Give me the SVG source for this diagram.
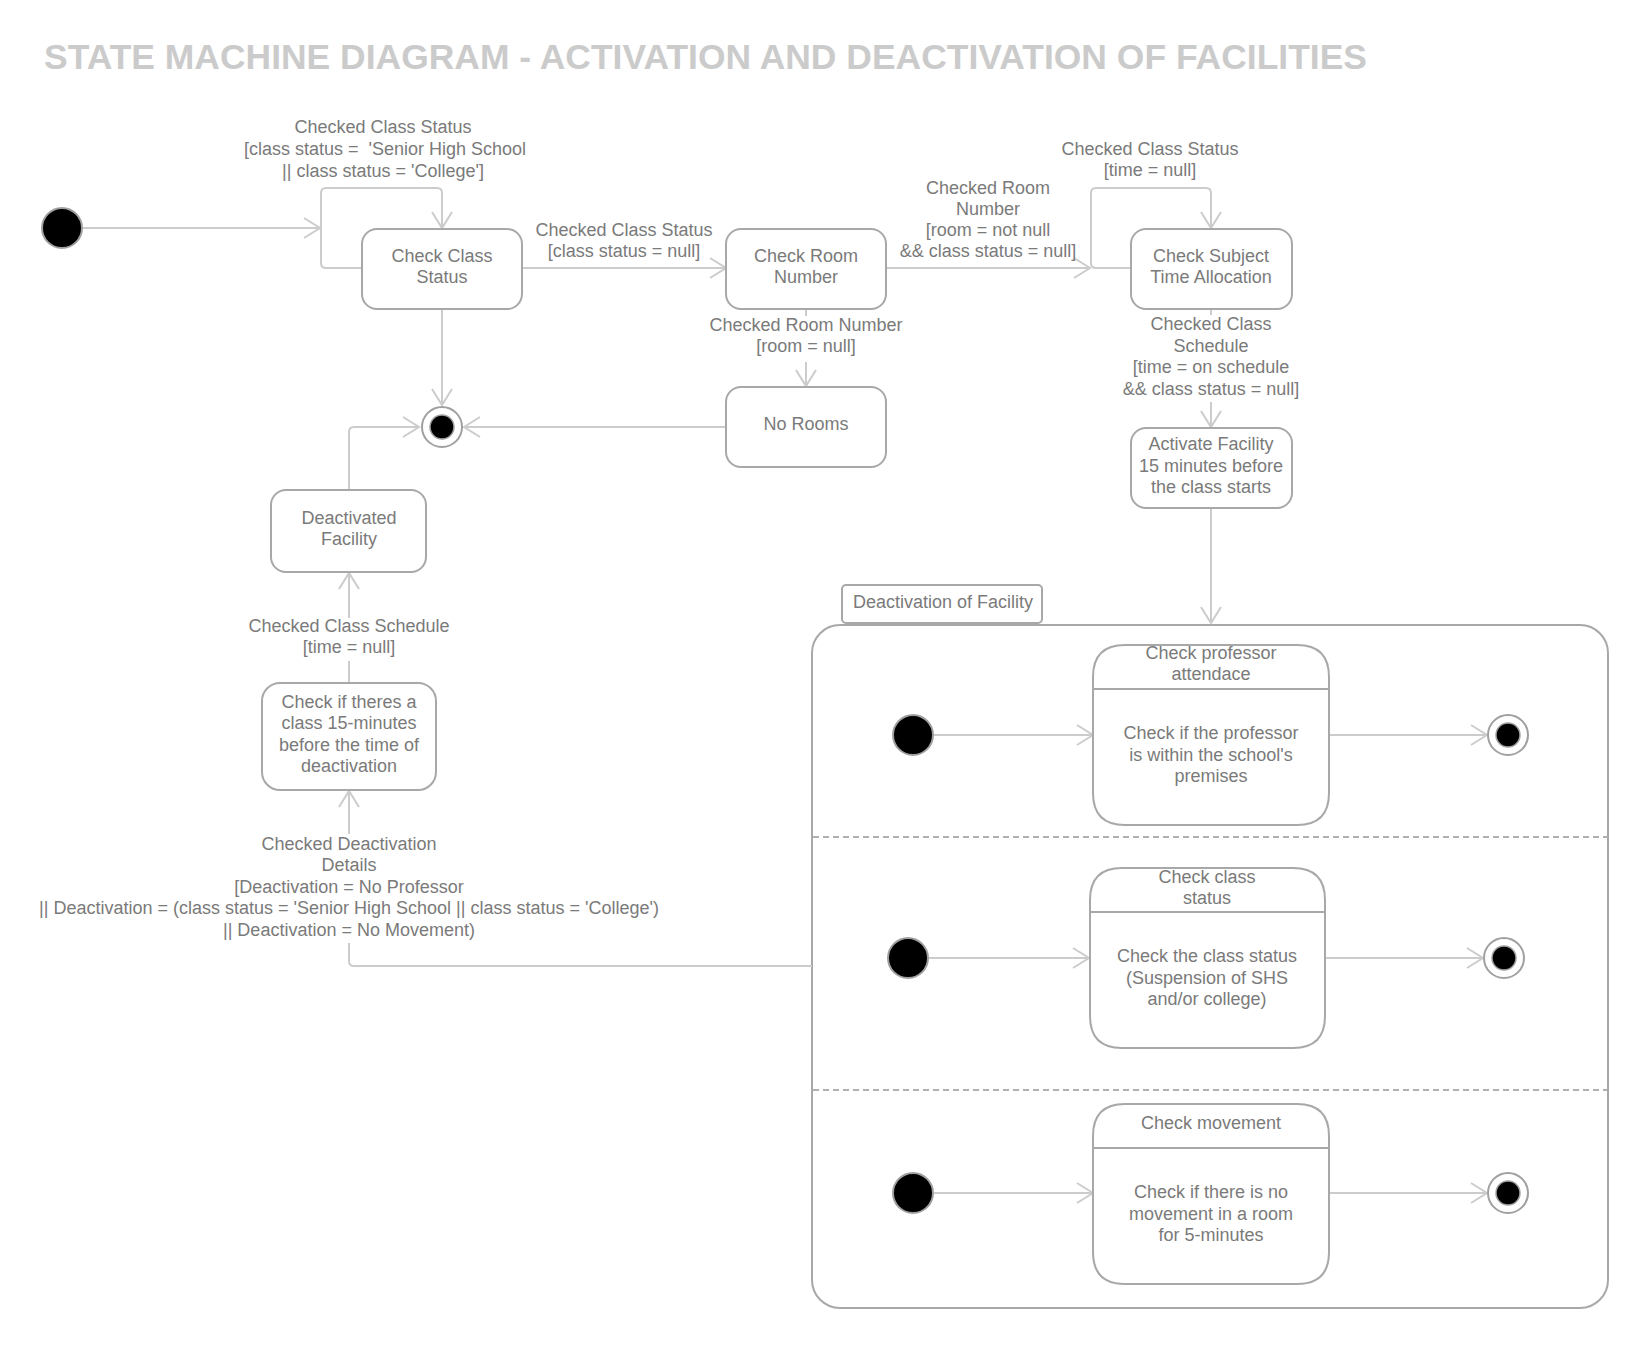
<svg xmlns="http://www.w3.org/2000/svg" width="1649" height="1348" viewBox="0 0 1649 1348">
<defs>
<style>
.t{font-family:"Liberation Sans",Arial,sans-serif;font-size:18px;fill:#7a7a7a;text-anchor:middle}
.tl{font-family:"Liberation Sans",Arial,sans-serif;font-size:18px;fill:#7a7a7a}
.title{font-family:"Liberation Sans",Arial,sans-serif;font-size:35px;font-weight:bold;fill:#cbcbcb}
.node{fill:#fff;stroke:#a8a8a8;stroke-width:2}
.frame{fill:none;stroke:#a8a8a8;stroke-width:2}
.c{fill:none;stroke:#cccccc;stroke-width:2}
.ca{fill:none;stroke:#cccccc;stroke-width:2;marker-end:url(#arr)}
.dash{fill:none;stroke:#b0b0b0;stroke-width:2;stroke-dasharray:6 4}
.init{fill:#000;stroke:#a0a0a0;stroke-width:2}
.fo{fill:#fff;stroke:#a0a0a0;stroke-width:2}
.fi{fill:#000;stroke:#a0a0a0;stroke-width:1.5}
</style>
<marker id="arr" markerUnits="userSpaceOnUse" markerWidth="22" markerHeight="24" refX="17" refY="11" orient="auto">
<path d="M1,1 L17,11 L1,21" fill="none" stroke="#cccccc" stroke-width="2"/>
</marker>
</defs>
<rect x="0" y="0" width="1649" height="1348" fill="#fff"/>
<text class="title" x="44" y="69" textLength="1323" lengthAdjust="spacingAndGlyphs">STATE MACHINE DIAGRAM - ACTIVATION AND DEACTIVATION OF FACILITIES</text>

<g id="deactivation-of-facility">
<rect class="node" x="842" y="585" width="200" height="38" rx="4"/>
<text class="tl" x="853" y="608">Deactivation of Facility</text>
<rect class="frame" x="812" y="625" width="796" height="683" rx="28"/>
<line class="dash" x1="813" y1="837" x2="1607" y2="837"/>
<line class="dash" x1="813" y1="1090" x2="1607" y2="1090"/>
</g>

<g id="connectors">
<line class="ca" x1="82" y1="228" x2="320" y2="228"/>
<path class="ca" d="M362,268 H326 Q321,268 321,263 V193 Q321,188 326,188 H437 Q442,188 442,193 V228"/>
<line class="ca" x1="522" y1="268" x2="726" y2="268"/>
<line class="ca" x1="442" y1="309" x2="442" y2="405"/>
<line class="ca" x1="886" y1="268" x2="1090" y2="268"/>
<path class="ca" d="M1131,268 H1096 Q1091,268 1091,263 V193 Q1091,188 1096,188 H1206 Q1211,188 1211,193 V228"/>
<line class="c" x1="806" y1="309" x2="806" y2="316"/>
<line class="ca" x1="806" y1="362" x2="806" y2="386"/>
<line class="ca" x1="726" y1="427" x2="464" y2="427"/>
<line class="c" x1="1211" y1="309" x2="1211" y2="315"/>
<line class="ca" x1="1211" y1="402" x2="1211" y2="427"/>
<line class="ca" x1="1211" y1="508" x2="1211" y2="623"/>
<path class="ca" d="M349,490 V432 Q349,427 354,427 H419"/>
<line class="c" x1="349" y1="683" x2="349" y2="661"/>
<line class="ca" x1="349" y1="618" x2="349" y2="573"/>
<path class="c" d="M812,966 H354 Q349,966 349,961 V943"/>
<line class="ca" x1="349" y1="834" x2="349" y2="791"/>
<line class="ca" x1="933" y1="735" x2="1093" y2="735"/>
<line class="ca" x1="1329" y1="735" x2="1487" y2="735"/>
<line class="ca" x1="928" y1="958" x2="1089" y2="958"/>
<line class="ca" x1="1325" y1="958" x2="1483" y2="958"/>
<line class="ca" x1="933" y1="1193" x2="1093" y2="1193"/>
<line class="ca" x1="1329" y1="1193" x2="1487" y2="1193"/>
</g>

<g id="labels">
<text class="t" x="383" y="133">Checked Class Status</text>
<text class="t" x="385" y="155" style="white-space:pre">[class status =  'Senior High School</text>
<text class="t" x="383" y="177">|| class status = 'College']</text>
<text class="t" x="624" y="236">Checked Class Status</text>
<text class="t" x="624" y="257">[class status = null]</text>
<text class="t" x="988" y="194">Checked Room</text>
<text class="t" x="988" y="215">Number</text>
<text class="t" x="988" y="236">[room = not null</text>
<text class="t" x="988" y="257">&amp;&amp; class status = null]</text>
<text class="t" x="1150" y="155">Checked Class Status</text>
<text class="t" x="1150" y="176">[time = null]</text>
<text class="t" x="806" y="331">Checked Room Number</text>
<text class="t" x="806" y="352">[room = null]</text>
<text class="t" x="1211" y="330">Checked Class</text>
<text class="t" x="1211" y="352">Schedule</text>
<text class="t" x="1211" y="373">[time = on schedule</text>
<text class="t" x="1211" y="395">&amp;&amp; class status = null]</text>
<text class="t" x="349" y="632">Checked Class Schedule</text>
<text class="t" x="349" y="653">[time = null]</text>
<text class="t" x="349" y="850">Checked Deactivation</text>
<text class="t" x="349" y="871">Details</text>
<text class="t" x="349" y="893">[Deactivation = No Professor</text>
<text class="t" x="349" y="914">|| Deactivation = (class status = 'Senior High School || class status = 'College')</text>
<text class="t" x="349" y="936">|| Deactivation = No Movement)</text>
</g>

<g id="initial">
<circle class="init" cx="62" cy="228" r="20"/>
</g>
<g id="final">
<circle class="fo" cx="442" cy="427" r="20"/>
<circle class="fi" cx="442" cy="427" r="12"/>
</g>

<g id="check-class-status">
<rect class="node" x="362" y="229" width="160" height="80" rx="15"/>
<text class="t" x="442" y="262">Check Class</text>
<text class="t" x="442" y="283">Status</text>
</g>
<g id="check-room-number">
<rect class="node" x="726" y="229" width="160" height="80" rx="15"/>
<text class="t" x="806" y="262">Check Room</text>
<text class="t" x="806" y="283">Number</text>
</g>
<g id="check-subject-time">
<rect class="node" x="1131" y="229" width="161" height="80" rx="15"/>
<text class="t" x="1211" y="262">Check Subject</text>
<text class="t" x="1211" y="283">Time Allocation</text>
</g>
<g id="no-rooms">
<rect class="node" x="726" y="387" width="160" height="80" rx="15"/>
<text class="t" x="806" y="430">No Rooms</text>
</g>
<g id="activate-facility">
<rect class="node" x="1131" y="428" width="161" height="80" rx="15"/>
<text class="t" x="1211" y="450">Activate Facility</text>
<text class="t" x="1211" y="472">15 minutes before</text>
<text class="t" x="1211" y="493">the class starts</text>
</g>
<g id="deactivated-facility">
<rect class="node" x="271" y="490" width="155" height="82" rx="15"/>
<text class="t" x="349" y="524">Deactivated</text>
<text class="t" x="349" y="545">Facility</text>
</g>
<g id="check-if-class">
<rect class="node" x="262" y="683" width="174" height="107" rx="18"/>
<text class="t" x="349" y="708">Check if theres a</text>
<text class="t" x="349" y="729">class 15-minutes</text>
<text class="t" x="349" y="751">before the time of</text>
<text class="t" x="349" y="772">deactivation</text>
</g>

<g id="region1">
<circle class="init" cx="913" cy="735" r="20"/>
<path class="node" d="M1093,677 Q1093,645 1125,645 H1297 Q1329,645 1329,677 V793 Q1329,825 1297,825 H1125 Q1093,825 1093,793 Z"/>
<line class="node" x1="1093" y1="689" x2="1329" y2="689"/>
<text class="t" x="1211" y="659">Check professor</text>
<text class="t" x="1211" y="680">attendace</text>
<text class="t" x="1211" y="739">Check if the professor</text>
<text class="t" x="1211" y="761">is within the school's</text>
<text class="t" x="1211" y="782">premises</text>
<circle class="fo" cx="1508" cy="735" r="20"/>
<circle class="fi" cx="1508" cy="735" r="12"/>
</g>

<g id="region2">
<circle class="init" cx="908" cy="958" r="20"/>
<path class="node" d="M1090,900 Q1090,868 1122,868 H1293 Q1325,868 1325,900 V1016 Q1325,1048 1293,1048 H1122 Q1090,1048 1090,1016 Z"/>
<line class="node" x1="1090" y1="912" x2="1325" y2="912"/>
<text class="t" x="1207" y="883">Check class</text>
<text class="t" x="1207" y="904">status</text>
<text class="t" x="1207" y="962">Check the class status</text>
<text class="t" x="1207" y="984">(Suspension of SHS</text>
<text class="t" x="1207" y="1005">and/or college)</text>
<circle class="fo" cx="1504" cy="958" r="20"/>
<circle class="fi" cx="1504" cy="958" r="12"/>
</g>

<g id="region3">
<circle class="init" cx="913" cy="1193" r="20"/>
<path class="node" d="M1093,1136 Q1093,1104 1125,1104 H1297 Q1329,1104 1329,1136 V1252 Q1329,1284 1297,1284 H1125 Q1093,1284 1093,1252 Z"/>
<line class="node" x1="1093" y1="1148" x2="1329" y2="1148"/>
<text class="t" x="1211" y="1129">Check movement</text>
<text class="t" x="1211" y="1198">Check if there is no</text>
<text class="t" x="1211" y="1220">movement in a room</text>
<text class="t" x="1211" y="1241">for 5-minutes</text>
<circle class="fo" cx="1508" cy="1193" r="20"/>
<circle class="fi" cx="1508" cy="1193" r="12"/>
</g>
</svg>
